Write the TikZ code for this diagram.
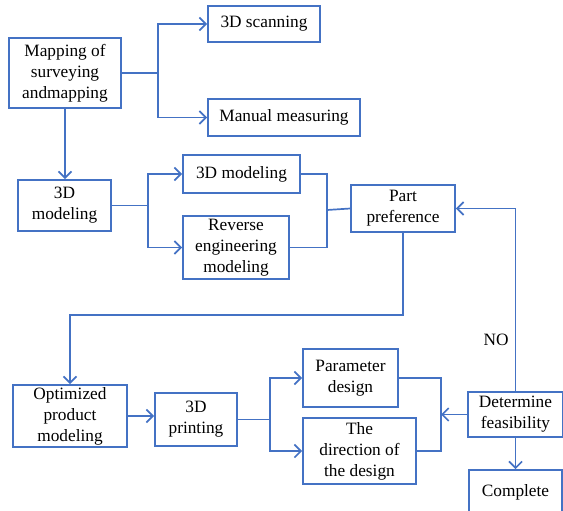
\documentclass[tikz,border=0pt]{standalone}
\usepackage{fontspec}
\setmainfont{Liberation Serif}
\usepackage{xcolor}
\usepackage{tikz}
\usetikzlibrary{arrows.meta, positioning, calc}
\definecolor{lineblue}{RGB}{68,114,196}

\begin{document}
\begin{tikzpicture}[x=1pt, y=-1pt, font=\fontsize{17.3}{21}\selectfont]
    \tikzstyle{box} = [rectangle, draw=lineblue, line width=1.7pt, fill=white, align=center, inner sep=0pt]
    \tikzstyle{line} = [draw=lineblue, line width=1.7pt]
    \tikzstyle{arrow} = [line, ->, >={Straight Barb[length=6.5pt,width=13pt]}]

    \useasboundingbox (0,0) rectangle (563,511);

    \node (map) [box, minimum width=112, minimum height=70] at (65,73) {Mapping of\\surveying\\andmapping};
    \node (scan) [box, minimum width=112, minimum height=36] at (264,24) {3D scanning};
    \node (manual) [box, minimum width=152, minimum height=37] at (284,117.5) {Manual measuring};
    \node (model) [box, minimum width=93, minimum height=51] at (64.5,205.5) {3D\\modeling};
    \node (modelb) [box, minimum width=117, minimum height=38] at (241.5,174) {3D modeling};
    \node (reverse) [box, minimum width=106, minimum height=63] at (236,247.5) {Reverse\\engineering\\modeling};
    \node (part) [box, minimum width=104, minimum height=47] at (403,208.5) {Part\\preference};
    \node (optim) [box, minimum width=114, minimum height=62] at (70,416) {Optimized\\product\\modeling};
    \node (print) [box, minimum width=82, minimum height=53] at (196,419.5) {3D\\printing};
    \node (param) [box, minimum width=95, minimum height=58] at (350.5,378) {Parameter\\design};
    \node (direction) [box, minimum width=113, minimum height=66] at (359.5,451) {The\\direction of\\the design};
    \node (determine) [box, minimum width=95, minimum height=45] at (515.5,414.5) {Determine\\feasibility};
    \node (complete) [box, minimum width=93, minimum height=45] at (515.5,492.5) {Complete};
    \node (no) at (496,340) {NO};

    \coordinate (join1) at (327,210);
    \coordinate (join2) at (441,414.5);

    \draw [arrow] (map.east) -- ++(36,0) |- (scan.west);
    \draw [arrow] (map.east) -- ++(36,0) |- (manual.west);
    \draw [arrow] (map.south) -- (map.south |- model.north);
    \draw [arrow] (model.east) -- ++(36,0) |- (modelb.west);
    \draw [arrow] (model.east) -- ++(36,0) |- (reverse.west);
    \draw [line] (modelb.east) -| (join1) |- (reverse.east);
    \draw [line] (join1) -- (part.west);
    \draw [arrow] (part.south) -- (part.south |- 0,315) -| (optim.north);
    \draw [arrow] (optim.east) -- (optim.east -| print.west);
    \draw [arrow] (print.east) -- ++(32,0) |- (param.west);
    \draw [arrow] (print.east) -- ++(32,0) |- (direction.west);
    \draw [line] (param.east) -| (join2) |- (direction.east);
    \draw [arrow] (determine.west) -- (join2);
    \draw [arrow] (determine.north) |- (part.east);
    \draw [arrow] (determine.south) -- (complete.north);
\end{tikzpicture}
\end{document}
